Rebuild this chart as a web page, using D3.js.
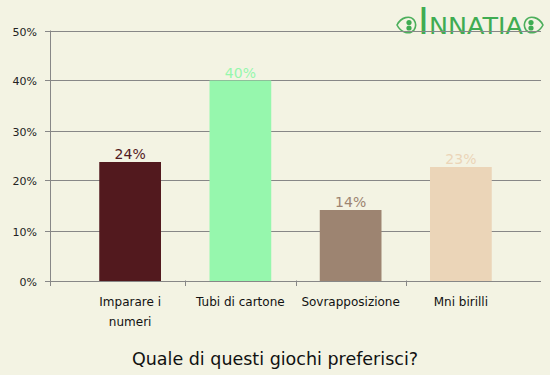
<!DOCTYPE html>
<html>
<head>
<meta charset="utf-8">
<script src="https://cdn.jsdelivr.net/npm/d3@7"></script>
<style>
  html, body { margin: 0; padding: 0; background: #f3f3e3; }
  svg { display: block; font-family: "DejaVu Sans", sans-serif; }
</style>
</head>
<body>
<svg id="chart" width="550" height="375"></svg>
<script>
const categories = [["Imparare i", "numeri"], ["Tubi di cartone"], ["Sovrapposizione"], ["Mni birilli"]];
const values = [23.7, 40, 14.1, 22.7];
const valueLabels = ["24%", "40%", "14%", "23%"];
const colors = ["#52191e", "#96f7ad", "#9d8471", "#ebd5b8"];
const yTicks = [0, 10, 20, 30, 40, 50];
const title = "Quale di questi giochi preferisci?";

const svg = d3.select("#chart");
const plotLeft = 50, plotRight = 541, plotTop = 30.5, plotBottom = 280.5;

// logo (drawn first, the top gridline runs over it)
const logo = svg.append("g").attr("fill", "#3fac52").attr("font-family", "'DejaVu Sans', sans-serif");
logo.append("text")
  .attr("x", 418).attr("y", 34)
  .attr("font-size", 37)
  .text("I");
logo.append("text")
  .attr("x", 429).attr("y", 34)
  .attr("font-size", 23)
  .attr("textLength", 94)
  .attr("lengthAdjust", "spacingAndGlyphs")
  .text("NNATIA");
function ornament(cx, dir) {
  const g = svg.append("g").attr("transform", `translate(${cx},25) scale(${dir},1)`);
  g.append("path")
    .attr("d", "M-9,0 C-5,-8 4,-10 8,-5 C10,-2 10,2 8,5 C4,10 -5,8 -9,0 Z")
    .attr("fill", "none").attr("stroke", "#4caf5c").attr("stroke-width", 1.6);
  g.append("circle").attr("cx", 3).attr("cy", -2.5).attr("r", 2.6).attr("fill", "#3fac52");
  g.append("circle").attr("cx", 3).attr("cy", 3).attr("r", 2.6).attr("fill", "#3fac52");
}
ornament(406, 1);
ornament(534, -1);

const x = d3.scaleBand()
  .domain(d3.range(categories.length))
  .range([75, 516])
  .paddingInner(0.44)
  .paddingOuter(0.22);

const y = d3.scaleLinear().domain([0, 50]).range([plotBottom, plotTop]);

// gridlines + left ticks
const grid = svg.append("g");
grid.selectAll("line")
  .data(yTicks)
  .enter()
  .append("line")
  .attr("x1", 45).attr("x2", plotRight)
  .attr("y1", d => Math.round(y(d)) + 0.5)
  .attr("y2", d => Math.round(y(d)) + 0.5)
  .attr("stroke", "#878787")
  .attr("stroke-width", 1);

grid.selectAll("text")
  .data(yTicks)
  .enter()
  .append("text")
  .attr("x", 37)
  .attr("y", d => Math.round(y(d)) + 4.5)
  .attr("text-anchor", "end")
  .attr("font-size", 11)
  .attr("fill", "#222")
  .text(d => d + "%");

// bars
svg.append("g").selectAll("rect")
  .data(values)
  .enter()
  .append("rect")
  .attr("x", (d, i) => x(i))
  .attr("width", x.bandwidth())
  .attr("y", d => y(d))
  .attr("height", d => plotBottom + 0.5 - y(d))
  .attr("fill", (d, i) => colors[i]);

svg.append("g").selectAll("text")
  .data(values)
  .enter()
  .append("text")
  .attr("x", (d, i) => x(i) + x.bandwidth() / 2)
  .attr("y", d => y(d) - 3)
  .attr("text-anchor", "middle")
  .attr("font-size", 14)
  .attr("fill", (d, i) => colors[i])
  .text((d, i) => valueLabels[i]);

// axes lines
svg.append("line")
  .attr("x1", plotLeft + 0.5).attr("x2", plotLeft + 0.5)
  .attr("y1", plotTop).attr("y2", 286)
  .attr("stroke", "#878787");

const step = x.step();
const xTicks = [plotLeft].concat(d3.range(1, categories.length).map(i => x(i) - (step - x.bandwidth()) / 2));
svg.append("g").selectAll("line")
  .data(xTicks)
  .enter()
  .append("line")
  .attr("x1", d => Math.round(d) + 0.5).attr("x2", d => Math.round(d) + 0.5)
  .attr("y1", plotBottom).attr("y2", 286)
  .attr("stroke", "#878787");

// category labels
const cat = svg.append("g").selectAll("text")
  .data(categories)
  .enter()
  .append("text")
  .attr("x", (d, i) => x(i) + x.bandwidth() / 2)
  .attr("y", 306)
  .attr("text-anchor", "middle")
  .attr("font-size", 12)
  .attr("fill", "#111");
cat.selectAll("tspan")
  .data(d => d)
  .enter()
  .append("tspan")
  .attr("x", function () { return this.parentNode.getAttribute("x"); })
  .attr("dy", (d, i) => i === 0 ? 0 : 20)
  .text(d => d);

// title
svg.append("text")
  .attr("x", 275)
  .attr("y", 365)
  .attr("text-anchor", "middle")
  .attr("font-size", 17.5)
  .attr("fill", "#111")
  .text(title);
</script>
</body>
</html>
